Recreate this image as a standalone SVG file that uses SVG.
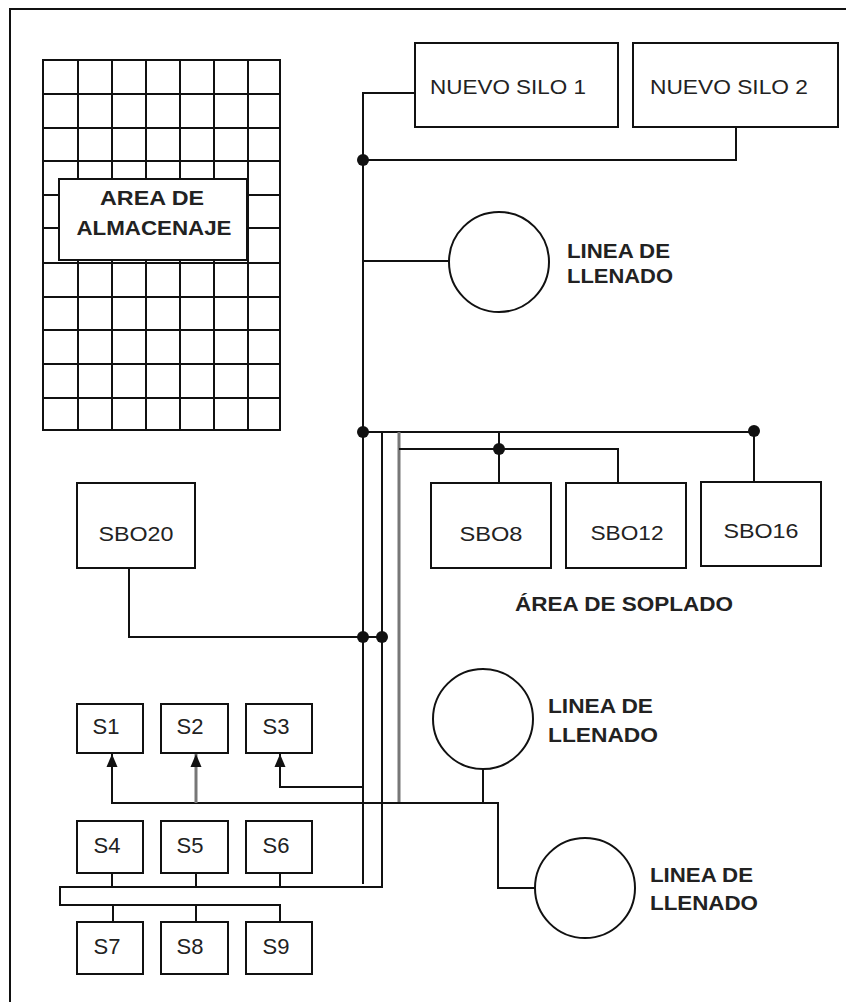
<svg xmlns="http://www.w3.org/2000/svg" width="846" height="1002" viewBox="0 0 846 1002">
<style>
.ln{stroke:#111;stroke-width:2;fill:none}
.gr{stroke:#777;stroke-width:3;fill:none}
.box{stroke:#111;stroke-width:2;fill:#fff}
.t{font-family:"Liberation Sans",Arial,sans-serif;font-size:21px;fill:#222}
.s{font-size:22px}
.b{font-weight:bold}
.dot{fill:#111}
</style>
<defs>
<marker id="ah" markerUnits="userSpaceOnUse" markerWidth="14" markerHeight="14" refX="13" refY="7" orient="auto" viewBox="0 0 14 14">
<path d="M0 1.5 L13 7 L0 12.5 Z" fill="#111"/>
</marker>
</defs>
<rect width="846" height="1002" fill="#fff"/>
<g id="frame"><path class="ln" d="M10 1002 V9 H846"/></g>

<g id="almacenaje">
<rect x="43" y="60" width="237" height="370" class="box"/>
<path class="ln" d="M78 60V430M112 60V430M146 60V430M180 60V430M214 60V430M248 60V430M43 94H280M43 128H280M43 161H280M43 195H280M43 228H280M43 263H280M43 297H280M43 330H280M43 364H280M43 398H280"/>
<rect x="59" y="179" width="188" height="81" class="box"/>
<text class="t b" x="152" y="205" text-anchor="middle" textLength="104" lengthAdjust="spacingAndGlyphs">AREA DE</text>
<text class="t b" x="154" y="235" text-anchor="middle" textLength="155" lengthAdjust="spacingAndGlyphs">ALMACENAJE</text>
</g>

<g id="silo1"><rect x="415" y="43" width="203" height="84" class="box"/><text class="t" x="430" y="94" textLength="156" lengthAdjust="spacingAndGlyphs">NUEVO SILO 1</text></g>
<g id="silo2"><rect x="633" y="43" width="205" height="84" class="box"/><text class="t" x="650" y="94" textLength="158" lengthAdjust="spacingAndGlyphs">NUEVO SILO 2</text></g>

<g id="llenado1"><circle cx="499" cy="262" r="50" class="box"/><text class="t b" x="567" y="258" textLength="103" lengthAdjust="spacingAndGlyphs">LINEA DE</text><text class="t b" x="567" y="283" textLength="106" lengthAdjust="spacingAndGlyphs">LLENADO</text></g>
<g id="llenado2"><circle cx="483" cy="719" r="50" class="box"/><text class="t b" x="548" y="713" textLength="105" lengthAdjust="spacingAndGlyphs">LINEA DE</text><text class="t b" x="548" y="742" textLength="110" lengthAdjust="spacingAndGlyphs">LLENADO</text></g>
<g id="llenado3"><circle cx="585" cy="888" r="50" class="box"/><text class="t b" x="650" y="882" textLength="103" lengthAdjust="spacingAndGlyphs">LINEA DE</text><text class="t b" x="650" y="910" textLength="108" lengthAdjust="spacingAndGlyphs">LLENADO</text></g>

<g id="sbo8"><rect x="431" y="483" width="120" height="85" class="box"/><text class="t" x="491" y="541" text-anchor="middle" textLength="63" lengthAdjust="spacingAndGlyphs">SBO8</text></g>
<g id="sbo12"><rect x="566" y="483" width="120" height="85" class="box"/><text class="t" x="627" y="540" text-anchor="middle" textLength="73" lengthAdjust="spacingAndGlyphs">SBO12</text></g>
<g id="sbo16"><rect x="701" y="482" width="120" height="84" class="box"/><text class="t" x="761" y="538" text-anchor="middle" textLength="75" lengthAdjust="spacingAndGlyphs">SBO16</text></g>
<g id="sbo20"><rect x="77" y="483" width="118" height="85" class="box"/><text class="t" x="136" y="541" text-anchor="middle" textLength="75" lengthAdjust="spacingAndGlyphs">SBO20</text></g>
<g id="soplado"><text class="t b" x="624" y="611" text-anchor="middle" textLength="218" lengthAdjust="spacingAndGlyphs">ÁREA DE SOPLADO</text></g>

<g id="s1"><rect x="77" y="704" width="66" height="49" class="box"/><text class="t s" x="106" y="734" text-anchor="middle">S1</text></g>
<g id="s2"><rect x="161" y="704" width="67" height="49" class="box"/><text class="t s" x="190" y="734" text-anchor="middle">S2</text></g>
<g id="s3"><rect x="246" y="704" width="66" height="49" class="box"/><text class="t s" x="276" y="734" text-anchor="middle">S3</text></g>
<g id="s4"><rect x="77" y="821" width="66" height="52" class="box"/><text class="t s" x="107" y="853" text-anchor="middle">S4</text></g>
<g id="s5"><rect x="161" y="821" width="67" height="52" class="box"/><text class="t s" x="190" y="853" text-anchor="middle">S5</text></g>
<g id="s6"><rect x="246" y="821" width="66" height="52" class="box"/><text class="t s" x="276" y="853" text-anchor="middle">S6</text></g>
<g id="s7"><rect x="77" y="922" width="66" height="52" class="box"/><text class="t s" x="107" y="954" text-anchor="middle">S7</text></g>
<g id="s8"><rect x="161" y="922" width="67" height="52" class="box"/><text class="t s" x="190" y="954" text-anchor="middle">S8</text></g>
<g id="s9"><rect x="246" y="922" width="66" height="52" class="box"/><text class="t s" x="276" y="954" text-anchor="middle">S9</text></g>

<g id="connectors">
<path class="ln" d="M415 93H363V884"/>
<path class="ln" d="M363 160H736V127"/>
<path class="ln" d="M363 261H449"/>
<path class="ln" d="M363 432H754V482"/>
<path class="ln" d="M499 432V483"/>
<path class="gr" d="M399 432V803"/>
<path class="ln" d="M399 449H618V483"/>
<path class="ln" d="M382 432V887H60V905H280V922"/>
<path class="ln" d="M129 568V637H382"/>
<path class="ln" d="M112 873V887M196 873V887M280 873V887M113 905V922M196 905V922"/>
<path class="ln" d="M363 787H280V754" marker-end="url(#ah)"/>
<path class="ln" d="M399 803H112V754" marker-end="url(#ah)"/>
<path class="gr" d="M196 803V754" marker-end="url(#ah)"/>
<path class="ln" d="M399 803H498V888H535"/>
<path class="ln" d="M483 769V803"/>
<circle class="dot" cx="363" cy="160" r="6"/>
<circle class="dot" cx="363" cy="432" r="6"/>
<circle class="dot" cx="754" cy="431" r="6"/>
<circle class="dot" cx="499" cy="449" r="6"/>
<circle class="dot" cx="363" cy="637" r="6"/>
<circle class="dot" cx="382" cy="637" r="6"/>
</g>
</svg>
